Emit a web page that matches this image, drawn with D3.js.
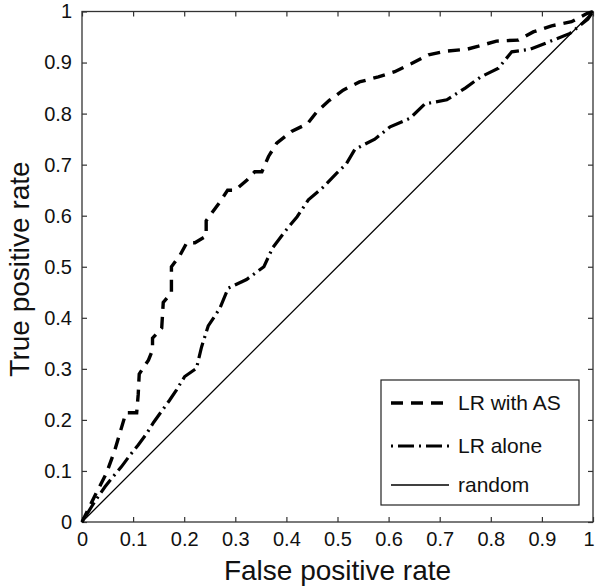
<!DOCTYPE html>
<html><head><meta charset="utf-8">
<script src="https://cdn.jsdelivr.net/npm/d3@7"></script>
<style>body{margin:0;background:#fff}svg{display:block}text{font-family:"Liberation Sans",Arial,sans-serif;fill:#111}</style>
</head><body><svg id="c" width="595" height="586"></svg>
<script>
const ticks = [0,0.1,0.2,0.3,0.4,0.5,0.6,0.7,0.8,0.9,1];
const tickLabels = ["0","0.1","0.2","0.3","0.4","0.5","0.6","0.7","0.8","0.9","1"];
const seriesNames = ["LR with AS","LR alone","random"];
const withAS_fpr = [0,0.028,0.048,0.064,0.086,0.107,0.11,0.112,0.13,0.138,0.138,0.156,0.159,0.175,0.175,0.192,0.205,0.221,0.243,0.243,0.27,0.285,0.30,0.323,0.338,0.352,0.365,0.381,0.41,0.441,0.46,0.484,0.511,0.543,0.58,0.612,0.645,0.678,0.71,0.753,0.776,0.811,0.854,0.883,0.919,0.958,0.988,1];
const withAS_tpr = [0,0.057,0.096,0.14,0.214,0.214,0.25,0.29,0.317,0.337,0.36,0.38,0.43,0.449,0.50,0.523,0.547,0.547,0.56,0.59,0.627,0.65,0.65,0.67,0.686,0.686,0.716,0.742,0.765,0.78,0.804,0.826,0.846,0.862,0.872,0.882,0.898,0.915,0.922,0.926,0.932,0.942,0.944,0.96,0.972,0.98,0.996,1];
const alone_fpr = [0,0.025,0.045,0.061,0.077,0.094,0.11,0.127,0.14,0.155,0.171,0.185,0.201,0.224,0.234,0.247,0.27,0.286,0.322,0.356,0.373,0.397,0.421,0.443,0.472,0.498,0.517,0.534,0.573,0.603,0.642,0.671,0.714,0.75,0.779,0.815,0.841,0.877,0.915,0.955,0.99,1];
const alone_tpr = [0,0.04,0.069,0.089,0.108,0.131,0.151,0.174,0.195,0.216,0.238,0.259,0.285,0.301,0.343,0.384,0.419,0.458,0.475,0.50,0.537,0.569,0.598,0.631,0.656,0.683,0.701,0.73,0.75,0.774,0.791,0.819,0.827,0.85,0.871,0.889,0.921,0.926,0.941,0.957,0.985,1];
const random_fpr = [0,1];
const random_tpr = [0,1];

const svg = d3.select("#c");
const L=82, R=593, T=11.5, B=522;
const x = d3.scaleLinear().domain([0,1]).range([L,R]);
const y = d3.scaleLinear().domain([0,1]).range([B,T]);
const axc = "#333";

svg.append("rect").attr("x",L).attr("y",T).attr("width",R-L).attr("height",B-T)
  .attr("fill","none").attr("stroke",axc).attr("stroke-width",1.3);

function styleAxis(g){ g.select(".domain").remove(); g.selectAll(".tick line").attr("stroke",axc).attr("stroke-width",1.2);
  g.selectAll("text").style("font-size","20px").attr("fill","#111"); }
const fmt = (d,i)=>tickLabels[i];
const xb = svg.append("g").attr("transform",`translate(0,${B})`).call(d3.axisBottom(x).tickValues(ticks).tickFormat(fmt).tickSizeInner(-5).tickSizeOuter(0).tickPadding(10)).call(styleAxis);
xb.selectAll(".tick text").filter((d,i)=>i===ticks.length-1).attr("text-anchor","end").attr("dx","1");
svg.append("g").attr("transform",`translate(0,${T})`).call(d3.axisTop(x).tickValues(ticks).tickFormat("").tickSizeInner(-5).tickSizeOuter(0)).call(styleAxis);
svg.append("g").attr("transform",`translate(${L},0)`).call(d3.axisLeft(y).tickValues(ticks).tickFormat(fmt).tickSizeInner(-5).tickSizeOuter(0).tickPadding(10)).call(styleAxis);
svg.append("g").attr("transform",`translate(${R},0)`).call(d3.axisRight(y).tickValues(ticks).tickFormat("").tickSizeInner(-5).tickSizeOuter(0)).call(styleAxis);

const line = d3.line().x(d=>x(d[0])).y(d=>y(d[1]));
const styles = [
  {dash:"12,8", w:3.4},
  {dash:"2,5,16,5", w:3.2},
  {dash:null, w:1.3}
];
const data = [d3.zip(withAS_fpr,withAS_tpr), d3.zip(alone_fpr,alone_tpr), d3.zip(random_fpr,random_tpr)];
data.forEach((d,i)=>{
  svg.append("path").attr("d",line(d)).attr("fill","none").attr("stroke","#000")
    .attr("stroke-width",styles[i].w).attr("stroke-dasharray",styles[i].dash);
});

svg.append("text").attr("x",(L+R)/2).attr("y",580).attr("text-anchor","middle").style("font-size","28px").text("False positive rate");
svg.append("text").attr("transform",`translate(29,269) rotate(-90)`).attr("text-anchor","middle").style("font-size","28px").text("True positive rate");

const lg = svg.append("g");
lg.append("rect").attr("x",381).attr("y",380).attr("width",198).attr("height",125).attr("fill","#fff").attr("stroke","#222").attr("stroke-width",1.2);
const rowY=[403,446,485];
seriesNames.forEach((n,i)=>{
  lg.append("line").attr("x1",391).attr("x2",449).attr("y1",rowY[i]).attr("y2",rowY[i]).attr("stroke","#000")
    .attr("stroke-width",styles[i].w).attr("stroke-dasharray",styles[i].dash);
  lg.append("text").attr("x",458).attr("y",rowY[i]+7).style("font-size","21px").text(n);
});
</script></body></html>
